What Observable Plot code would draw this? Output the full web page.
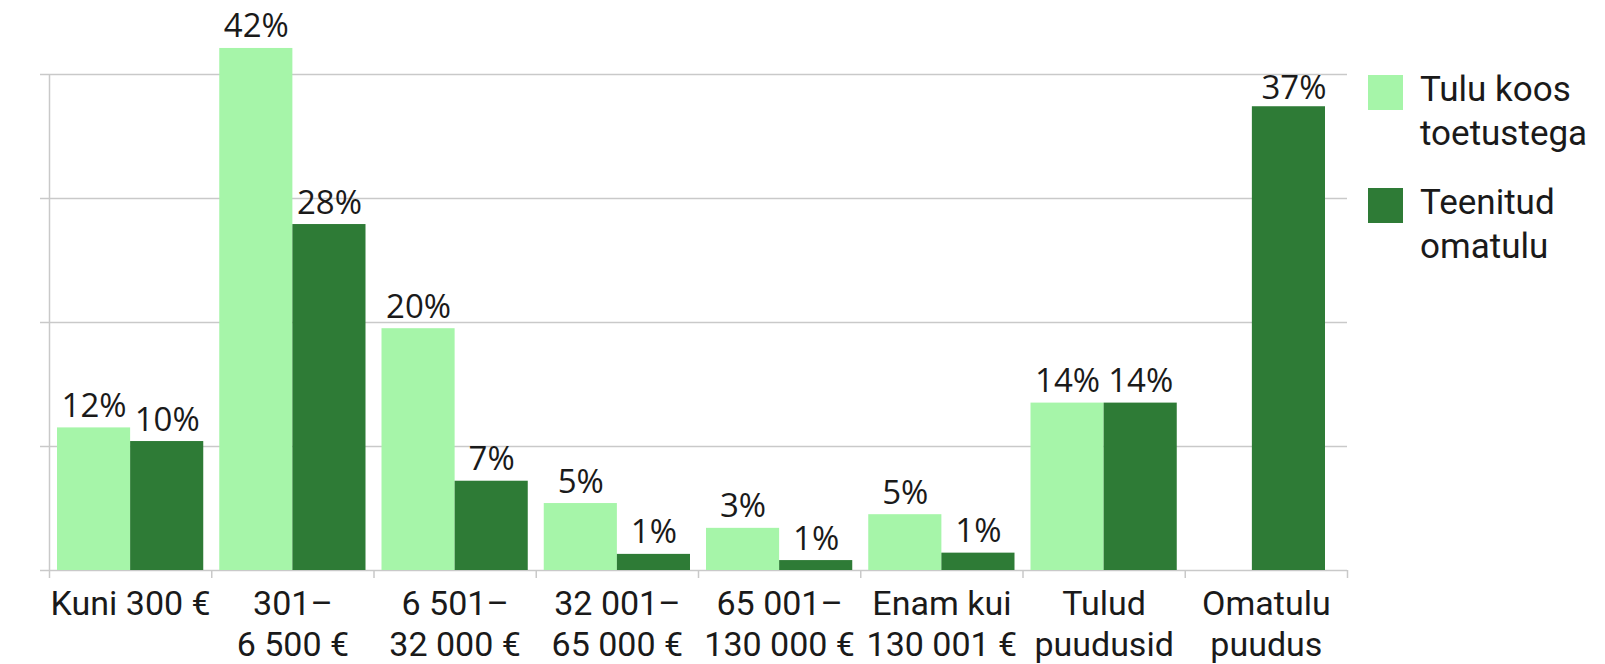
<!DOCTYPE html>
<html>
<head>
<meta charset="utf-8">
<script src="https://cdn.jsdelivr.net/npm/d3@7"></script>
<script src="https://cdn.jsdelivr.net/npm/@observablehq/plot@0.6"></script>
<style>
  html, body { margin: 0; padding: 0; background: #ffffff; }
  #wrap { position: relative; width: 1605px; height: 664px; font-family: Roboto, "Open Sans", sans-serif; color: #1a1a1a; }
  #chart { position: absolute; left: 0; top: 0; }
  #legend { position: absolute; left: 1368px; top: 68px; }
  .item { display: flex; align-items: flex-start; margin-bottom: 25px; }
  .sw { width: 35px; height: 35px; margin-top: 7px; flex: none; }
  .lab { margin-left: 17px; font-size: 35px; line-height: 44px; white-space: pre-line; }
</style>
</head>
<body>
<div id="wrap">
  <div id="chart"></div>
  <div id="legend"></div>
</div>
<script>
// ---- data ----
const categories = [
  "Kuni 300 €",
  "301–\n6 500 €",
  "6 501–\n32 000 €",
  "32 001–\n65 000 €",
  "65 001–\n130 000 €",
  "Enam kui\n130 001 €",
  "Tulud\npuudusid",
  "Omatulu\npuudus"
];
const seriesNames = ["Tulu koos\ntoetustega", "Teenitud\nomatulu"];
const seriesColors = ["#a6f5a9", "#2e7b36"];
const tuluKoosToetustega = [11.5, 42.1, 19.5, 5.4, 3.4, 4.5, 13.5, null];
const teenitudOmatulu    = [10.4, 27.9, 7.2, 1.3, 0.8, 1.4, 13.5, 37.4];
const tuluLabels    = ["12%", "42%", "20%", "5%", "3%", "5%", "14%", null];
const omatuluLabels = ["10%", "28%", "7%", "1%", "1%", "1%", "14%", "37%"];
const yTicks = [0, 10, 20, 30, 40];

// ---- rows ----
const rows = [];
categories.forEach((c, i) => {
  const hasLight = tuluKoosToetustega[i] != null;
  if (hasLight) rows.push({cat: c, i, s: 0, solo: false, series: seriesNames[0], value: tuluKoosToetustega[i], label: tuluLabels[i]});
  if (teenitudOmatulu[i] != null) rows.push({cat: c, i, s: 1, solo: !hasLight, series: seriesNames[1], value: teenitudOmatulu[i], label: omatuluLabels[i]});
});
const light = rows.filter(d => d.s === 0);
const darkPaired = rows.filter(d => d.s === 1 && !d.solo);
const darkSolo = rows.filter(d => d.s === 1 && d.solo);
const catRows = categories.map((c, i) => ({cat: c, i}));

const gridColor = "#c9c9c9";
const textColor = "#1a1a1a";
const valueFont = "'Open Sans', Roboto, sans-serif";

const chart = Plot.plot({
  width: 1360,
  height: 664,
  marginLeft: 49,
  marginRight: 13,
  marginTop: 74,
  marginBottom: 94,
  style: {fontFamily: "Roboto, 'Open Sans', sans-serif", fontSize: "34px", color: textColor, background: "transparent", overflow: "visible"},
  x: {domain: [0, categories.length], axis: null},
  y: {domain: [0, 40], axis: null},
  color: {domain: seriesNames, range: seriesColors},
  marks: [
    Plot.ruleY(yTicks, {stroke: gridColor, strokeWidth: 1.5, insetLeft: -9}),
    Plot.ruleX([0], {stroke: gridColor, strokeWidth: 1.5, insetBottom: -8}),
    Plot.ruleX(d3.range(1, categories.length + 1), {y1: 0, y2: 0, stroke: gridColor, strokeWidth: 1.5, insetBottom: -8}),
    Plot.rectY(light, {x1: d => d.i, x2: d => d.i + 0.5, y1: 0, y2: "value", fill: "series", insetLeft: 8}),
    Plot.rectY(darkPaired, {x1: d => d.i + 0.5, x2: d => d.i + 1, y1: 0, y2: "value", fill: "series", insetRight: 8}),
    Plot.rectY(darkSolo, {x1: d => d.i + 0.5, x2: d => d.i + 1, y1: 0, y2: "value", fill: "series", insetRight: 8, dx: -14}),
    Plot.text(light, {x: d => d.i + 0.25, y: "value", text: "label", dx: 4, dy: -11, lineAnchor: "bottom", fontSize: 33, fontFamily: valueFont, fill: textColor}),
    Plot.text(darkPaired, {x: d => d.i + 0.75, y: "value", text: "label", dx: -4, dy: -11, lineAnchor: "bottom", fontSize: 33, fontFamily: valueFont, fill: textColor}),
    Plot.text(darkSolo, {x: d => d.i + 0.75, y: "value", text: "label", dx: -13, dy: -8, lineAnchor: "bottom", fontSize: 33, fontFamily: valueFont, fill: textColor}),
    Plot.text(catRows, {x: d => d.i + 0.5, y: () => 0, text: "cat", textAnchor: "middle", lineAnchor: "top", dy: 15, lineHeight: 1.21, fontSize: 34, fill: textColor})
  ]
});
document.getElementById("chart").appendChild(chart);

// ---- legend ----
const legend = document.getElementById("legend");
seriesNames.forEach((name, k) => {
  const item = document.createElement("div");
  item.className = "item";
  const sw = document.createElement("div");
  sw.className = "sw";
  sw.style.background = seriesColors[k];
  const lab = document.createElement("div");
  lab.className = "lab";
  lab.textContent = name;
  item.appendChild(sw);
  item.appendChild(lab);
  legend.appendChild(item);
});
</script>
</body>
</html>
